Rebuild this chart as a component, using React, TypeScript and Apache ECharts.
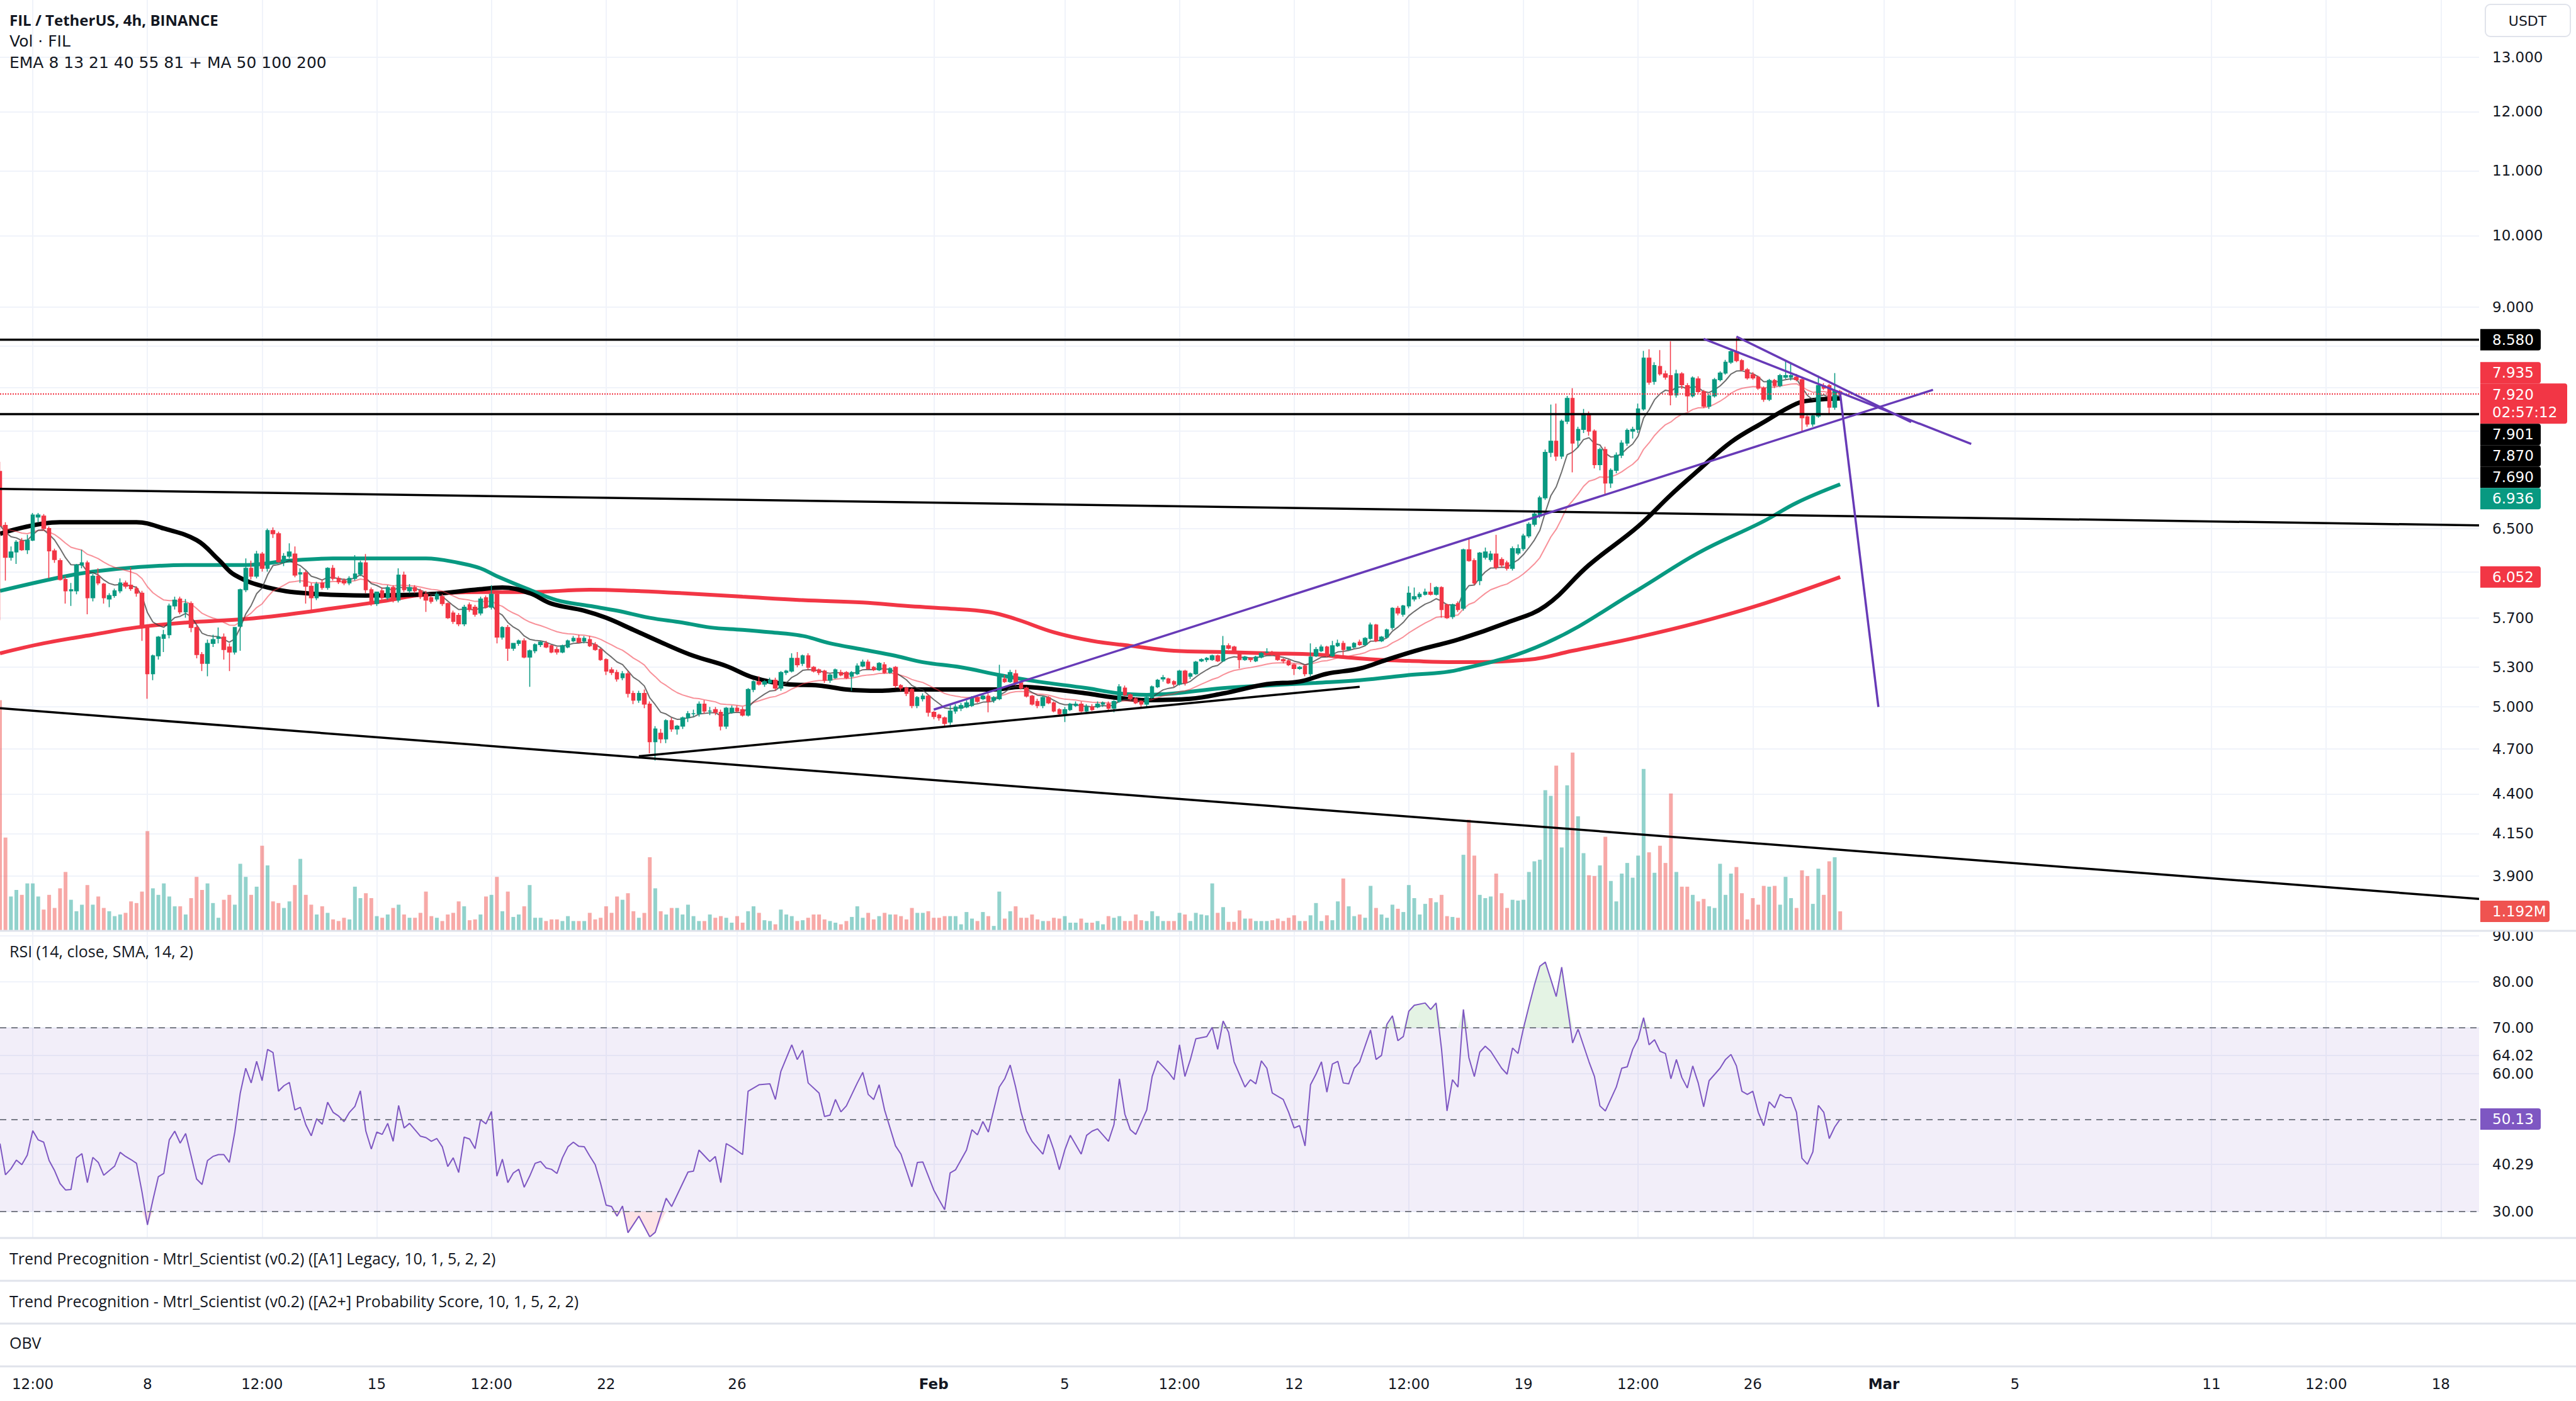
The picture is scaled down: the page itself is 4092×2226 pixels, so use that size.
import React, { useEffect, useRef } from "react";
import * as echarts from "echarts";

// ---------- DATA ----------
// 4h candles, index 0 = Jan 3 12:00 ; [open, high, low, close]
const ohlc: [number, number, number, number][] = [
  [7.07,7.17,5.68,6.53],[6.53,6.56,6.02,6.23],[6.23,6.33,6.20,6.28],[6.28,6.39,6.17,6.37],[6.38,6.41,6.29,6.30],
  [6.30,6.44,6.26,6.39],[6.39,6.65,6.38,6.63],[6.61,6.65,6.56,6.63],[6.62,6.64,6.48,6.50],[6.50,6.52,6.04,6.29],
  [6.29,6.31,6.18,6.21],[6.20,6.22,6.02,6.03],[6.03,6.06,5.82,5.93],[5.93,6.00,5.80,5.94],[5.93,6.17,5.90,6.16],
  [6.16,6.30,6.13,6.18],[6.18,6.20,5.73,5.87],[5.87,6.08,5.84,6.06],[6.06,6.13,5.98,6.00],[5.99,6.00,5.82,5.87],
  [5.86,5.91,5.79,5.89],[5.89,5.95,5.87,5.93],[5.93,6.04,5.91,6.00],[6.00,6.02,5.95,5.97],[5.98,6.14,5.93,5.95],
  [5.95,5.97,5.88,5.91],[5.91,5.93,5.51,5.62],[5.62,5.64,5.06,5.25],[5.25,5.40,5.20,5.39],[5.39,5.55,5.36,5.54],
  [5.53,5.60,5.42,5.56],[5.56,5.82,5.53,5.80],[5.80,5.88,5.77,5.85],[5.86,5.88,5.73,5.75],[5.75,5.86,5.70,5.82],
  [5.82,5.84,5.58,5.62],[5.62,5.64,5.37,5.40],[5.40,5.42,5.27,5.33],[5.33,5.52,5.23,5.49],[5.49,5.56,5.46,5.52],
  [5.53,5.62,5.49,5.54],[5.54,5.57,5.36,5.44],[5.46,5.49,5.27,5.42],[5.42,5.62,5.40,5.62],[5.63,5.95,5.43,5.94],
  [5.94,6.22,5.92,6.13],[6.13,6.20,6.03,6.06],[6.06,6.29,6.04,6.26],[6.26,6.28,6.10,6.13],[6.13,6.50,6.10,6.48],
  [6.48,6.51,6.41,6.45],[6.45,6.47,6.18,6.19],[6.19,6.27,6.15,6.24],[6.24,6.36,6.22,6.28],[6.26,6.33,6.05,6.07],
  [6.08,6.13,6.00,6.09],[6.09,6.11,5.82,5.97],[5.97,6.00,5.75,5.87],[5.87,6.01,5.85,5.99],[6.00,6.03,5.94,5.96],
  [5.96,6.14,5.94,6.13],[6.13,6.16,6.02,6.04],[6.04,6.06,5.99,6.01],[6.02,6.04,5.98,6.00],[6.00,6.06,5.98,6.04],
  [6.04,6.25,6.02,6.08],[6.08,6.20,6.06,6.18],[6.18,6.26,5.91,5.94],[5.94,5.96,5.80,5.82],[5.82,5.92,5.80,5.92],
  [5.93,5.96,5.85,5.87],[5.87,5.98,5.85,5.96],[5.96,5.98,5.83,5.85],[5.85,6.13,5.83,6.07],[6.07,6.10,5.92,5.94],
  [5.93,5.99,5.91,5.96],[5.96,5.98,5.91,5.93],[5.93,5.95,5.86,5.88],[5.90,5.93,5.75,5.85],[5.87,5.89,5.82,5.84],
  [5.86,5.92,5.84,5.90],[5.88,5.90,5.80,5.82],[5.82,5.83,5.69,5.70],[5.74,5.76,5.65,5.67],[5.72,5.74,5.63,5.65],
  [5.65,5.81,5.63,5.79],[5.81,5.83,5.75,5.77],[5.79,5.81,5.71,5.73],[5.74,5.88,5.72,5.86],[5.87,5.89,5.78,5.79],
  [5.79,5.98,5.77,5.90],[5.90,5.92,5.49,5.54],[5.54,5.63,5.52,5.62],[5.62,5.64,5.35,5.45],[5.45,5.49,5.43,5.49],
  [5.49,5.52,5.47,5.51],[5.51,5.53,5.37,5.38],[5.38,5.44,5.15,5.43],[5.43,5.49,5.41,5.48],[5.48,5.51,5.46,5.50],
  [5.49,5.51,5.45,5.46],[5.47,5.48,5.41,5.42],[5.44,5.46,5.40,5.42],[5.42,5.48,5.41,5.47],[5.46,5.52,5.45,5.51],
  [5.51,5.55,5.50,5.53],[5.53,5.56,5.49,5.50],[5.51,5.55,5.49,5.53],[5.52,5.55,5.46,5.47],[5.48,5.50,5.43,5.44],
  [5.44,5.45,5.35,5.36],[5.36,5.37,5.24,5.27],[5.28,5.30,5.24,5.26],[5.26,5.28,5.19,5.21],[5.22,5.27,5.20,5.25],
  [5.25,5.27,5.07,5.10],[5.10,5.12,5.02,5.05],[5.05,5.12,5.03,5.10],[5.10,5.13,4.99,5.02],[5.02,5.04,4.67,4.75],
  [4.75,4.86,4.62,4.84],[4.81,4.84,4.74,4.77],[4.77,4.91,4.74,4.90],[4.90,4.92,4.82,4.84],[4.84,4.87,4.80,4.86],
  [4.86,4.93,4.84,4.92],[4.92,4.97,4.89,4.95],[4.95,4.98,4.93,4.95],[4.95,5.04,4.93,5.02],[5.02,5.05,4.95,4.97],
  [4.97,5.00,4.94,4.97],[4.98,5.00,4.94,4.96],[4.96,4.98,4.83,4.86],[4.86,5.00,4.84,4.99],[4.96,5.01,4.95,4.99],
  [4.99,5.01,4.96,4.97],[4.98,5.00,4.93,4.94],[4.94,5.14,4.93,5.13],[5.13,5.20,5.11,5.19],[5.19,5.23,5.16,5.17],
  [5.17,5.20,5.15,5.19],[5.18,5.22,5.17,5.20],[5.20,5.22,5.12,5.14],[5.14,5.27,5.12,5.26],[5.26,5.28,5.24,5.27],
  [5.27,5.41,5.26,5.37],[5.37,5.42,5.30,5.32],[5.33,5.40,5.31,5.39],[5.39,5.41,5.28,5.30],[5.30,5.31,5.26,5.27],
  [5.28,5.29,5.24,5.26],[5.27,5.28,5.18,5.20],[5.20,5.25,5.18,5.24],[5.22,5.29,5.21,5.28],[5.26,5.28,5.23,5.24],
  [5.26,5.27,5.21,5.22],[5.23,5.27,5.12,5.26],[5.25,5.33,5.24,5.31],[5.31,5.36,5.30,5.34],[5.34,5.36,5.28,5.29],
  [5.30,5.31,5.27,5.28],[5.28,5.34,5.27,5.33],[5.32,5.34,5.25,5.26],[5.26,5.30,5.25,5.29],[5.30,5.31,5.14,5.16],
  [5.16,5.17,5.12,5.14],[5.14,5.15,5.08,5.10],[5.13,5.14,4.99,5.01],[5.01,5.08,4.99,5.07],[5.06,5.10,5.04,5.08],
  [5.08,5.09,4.93,4.96],[4.96,4.97,4.91,4.93],[4.94,4.95,4.90,4.92],[4.92,4.93,4.86,4.88],[4.89,5.01,4.87,4.97],
  [4.97,5.02,4.95,5.00],[4.99,5.03,4.97,5.01],[5.00,5.05,4.99,5.03],[5.01,5.08,5.00,5.07],[5.07,5.09,5.03,5.04],
  [5.06,5.10,5.05,5.08],[5.08,5.10,4.96,5.04],[5.05,5.08,5.03,5.07],[5.06,5.32,5.05,5.23],[5.21,5.24,5.18,5.19],
  [5.19,5.28,5.18,5.26],[5.25,5.28,5.16,5.18],[5.18,5.19,5.13,5.14],[5.14,5.15,5.07,5.08],[5.08,5.09,5.01,5.02],
  [5.04,5.06,4.99,5.01],[5.01,5.08,4.99,5.07],[5.07,5.08,5.02,5.03],[5.03,5.04,4.96,4.97],[4.98,4.99,4.94,4.95],
  [4.95,5.00,4.89,4.98],[4.98,5.03,4.97,5.02],[5.01,5.04,5.00,5.02],[5.02,5.04,4.96,4.97],[4.97,5.02,4.96,5.00],
  [5.00,5.02,4.97,4.98],[5.00,5.04,4.99,5.02],[5.02,5.04,5.00,5.03],[5.02,5.04,4.97,4.99],[4.99,5.05,4.96,5.04],
  [5.04,5.17,5.03,5.15],[5.14,5.16,5.08,5.09],[5.09,5.10,5.05,5.06],[5.06,5.07,5.02,5.03],[5.04,5.05,5.00,5.02],
  [5.02,5.08,5.00,5.07],[5.07,5.16,5.06,5.15],[5.15,5.21,5.14,5.20],[5.21,5.24,5.19,5.22],[5.21,5.22,5.17,5.18],
  [5.19,5.20,5.15,5.17],[5.17,5.28,5.16,5.27],[5.27,5.28,5.16,5.18],[5.23,5.26,5.21,5.25],[5.25,5.35,5.24,5.34],
  [5.35,5.37,5.34,5.36],[5.36,5.38,5.34,5.37],[5.36,5.40,5.35,5.39],[5.39,5.40,5.34,5.35],[5.35,5.55,5.34,5.47],
  [5.47,5.49,5.44,5.45],[5.46,5.47,5.41,5.42],[5.42,5.43,5.29,5.36],[5.36,5.39,5.35,5.38],[5.37,5.38,5.34,5.36],
  [5.35,5.39,5.34,5.38],[5.38,5.42,5.37,5.41],[5.42,5.45,5.41,5.42],[5.41,5.43,5.39,5.40],[5.40,5.41,5.35,5.36],
  [5.36,5.37,5.33,5.35],[5.35,5.36,5.31,5.32],[5.32,5.33,5.24,5.29],[5.29,5.31,5.28,5.30],[5.31,5.32,5.23,5.25],
  [5.25,5.49,5.23,5.38],[5.39,5.46,5.38,5.44],[5.43,5.48,5.42,5.46],[5.46,5.47,5.38,5.39],[5.39,5.51,5.38,5.47],
  [5.47,5.52,5.46,5.49],[5.49,5.51,5.39,5.44],[5.44,5.46,5.43,5.46],[5.46,5.50,5.45,5.49],[5.50,5.52,5.47,5.48],
  [5.48,5.54,5.47,5.53],[5.53,5.66,5.52,5.64],[5.64,5.65,5.50,5.51],[5.51,5.55,5.50,5.54],[5.54,5.61,5.53,5.60],
  [5.62,5.79,5.60,5.78],[5.78,5.80,5.72,5.74],[5.73,5.81,5.71,5.80],[5.80,5.97,5.78,5.91],[5.86,5.96,5.84,5.88],
  [5.88,5.92,5.86,5.90],[5.90,5.95,5.89,5.92],[5.92,6.00,5.89,5.90],[5.90,5.97,5.89,5.96],[5.96,5.97,5.70,5.77],
  [5.81,5.82,5.69,5.70],[5.71,5.82,5.69,5.81],[5.82,5.84,5.75,5.77],[5.78,6.31,5.76,6.30],[6.30,6.40,6.19,6.20],
  [6.20,6.22,5.98,6.00],[6.02,6.28,5.98,6.27],[6.23,6.32,6.21,6.28],[6.21,6.29,6.19,6.26],[6.26,6.44,6.12,6.14],
  [6.21,6.23,6.14,6.16],[6.18,6.20,6.11,6.13],[6.13,6.33,6.11,6.31],[6.27,6.35,6.25,6.31],[6.31,6.45,6.29,6.43],
  [6.43,6.56,6.41,6.54],[6.54,6.66,6.52,6.64],[6.62,6.82,6.60,6.80],[6.80,7.30,6.78,7.27],[7.27,7.80,7.22,7.39],
  [7.39,7.81,7.18,7.23],[7.23,7.63,7.20,7.61],[7.61,7.90,7.58,7.87],[7.87,7.99,7.06,7.37],[7.40,7.55,7.32,7.52],
  [7.52,7.75,7.48,7.69],[7.69,7.72,7.45,7.50],[7.50,7.52,7.10,7.14],[7.14,7.32,7.08,7.30],[7.30,7.33,6.84,6.95],
  [6.95,7.10,6.90,7.08],[7.08,7.27,7.05,7.24],[7.24,7.40,7.21,7.37],[7.37,7.53,7.34,7.51],[7.50,7.55,7.42,7.52],
  [7.52,7.81,7.48,7.75],[7.75,8.44,7.73,8.35],[8.35,8.46,8.03,8.06],[8.07,8.30,8.03,8.26],[8.25,8.45,8.14,8.16],
  [8.16,8.20,8.09,8.12],[8.14,8.56,7.79,7.91],[7.91,8.21,7.88,8.16],[8.16,8.18,7.98,8.03],[8.02,8.05,7.72,7.90],
  [7.90,8.13,7.88,8.11],[8.10,8.13,7.93,7.95],[7.95,7.97,7.76,7.78],[7.78,7.92,7.75,7.90],[7.90,8.11,7.88,8.09],
  [8.09,8.19,8.07,8.17],[8.17,8.33,8.15,8.30],[8.30,8.46,8.28,8.43],[8.43,8.61,8.30,8.32],[8.32,8.34,8.19,8.21],
  [8.21,8.23,8.09,8.11],[8.15,8.18,8.09,8.11],[8.12,8.14,7.97,7.99],[7.99,8.01,7.83,7.86],[7.86,8.10,7.84,8.08],
  [8.08,8.10,7.99,8.02],[8.02,8.16,8.00,8.14],[8.12,8.32,8.10,8.14],[8.12,8.29,8.08,8.14],[8.12,8.16,8.07,8.09],
  [8.09,8.11,7.49,7.65],[7.66,7.68,7.55,7.58],[7.58,7.69,7.55,7.67],[7.67,8.14,7.65,8.02],[8.02,8.05,7.97,7.99],
  [8.02,8.04,7.69,7.77],[7.77,8.17,7.74,7.96],[7.95,7.97,7.91,7.92],
];

// volume per candle, millions of FIL
const volumes: number[] = [
  14.1,5.7,2.1,2.5,2.2,2.9,2.9,2.1,1.3,2.2,1.4,2.6,3.6,1.9,1.2,1.6,2.8,1.6,2.1,1.4,
  1.2,0.9,1.0,1.1,1.8,1.7,2.4,6.1,2.6,2.2,2.9,2.1,1.5,1.5,1.0,2.0,3.3,2.5,2.9,1.7,
  0.8,1.9,2.2,1.6,4.1,3.3,2.2,2.7,5.2,4.0,1.8,1.7,1.4,1.8,2.8,4.4,2.2,1.6,1.0,1.5,
  1.1,0.7,0.6,0.8,0.7,2.7,2.0,2.3,2.0,0.9,0.8,1.0,1.4,1.6,1.0,0.8,0.8,1.1,2.4,0.9,
  0.8,0.6,1.0,1.1,1.8,1.5,0.65,0.7,1.0,2.1,2.2,3.3,1.2,2.4,0.85,1.0,1.5,2.8,0.8,0.8,
  0.6,0.7,0.7,0.6,0.9,0.6,0.6,0.6,1.1,0.7,0.8,1.5,1.1,2.1,1.9,2.3,1.2,0.8,1.1,4.5,
  2.6,1.2,1.0,1.4,1.4,1.0,1.6,0.9,0.6,0.6,1.0,0.8,0.9,0.8,0.5,0.9,0.5,1.2,1.5,1.1,
  0.65,0.6,0.4,1.3,1.0,0.9,0.6,0.65,0.8,1.0,1.0,0.7,0.6,0.5,0.4,0.6,0.85,1.5,0.8,1.1,
  0.7,0.9,1.1,1.0,1.0,0.9,0.7,1.4,1.1,1.1,1.2,0.8,0.8,0.9,0.9,0.9,0.4,1.15,0.75,0.6,
  1.15,0.9,0.3,2.4,0.75,1.2,1.5,0.8,0.8,1.0,0.7,0.6,0.6,0.8,0.75,0.9,0.5,0.5,0.75,0.5,
  0.5,0.6,0.4,0.9,0.8,0.9,0.6,0.6,1.0,0.65,0.6,1.2,0.9,0.6,0.6,0.6,1.1,1.0,0.6,1.1,
  1.0,0.95,2.9,1.1,1.45,0.55,0.55,1.25,0.75,0.75,0.6,0.6,0.6,0.65,0.75,0.6,0.8,0.95,0.6,0.6,
  0.95,1.7,0.6,0.95,0.65,1.8,3.2,1.5,0.9,1.0,0.8,2.75,1.4,1.0,0.8,1.6,1.35,1.15,2.8,2.0,
  1.0,1.65,2.0,1.75,2.2,0.9,0.85,0.8,4.65,6.8,4.6,2.2,2.0,2.1,3.5,2.3,1.4,1.9,1.85,1.9,
  3.6,4.25,4.35,8.6,8.25,10.1,5.1,8.9,10.9,7.0,4.75,3.4,3.35,4.0,5.75,3.05,1.8,3.5,4.15,3.25,
  4.6,9.9,4.8,3.55,5.2,4.15,8.4,3.6,2.7,2.7,2.2,1.8,1.95,1.5,1.4,4.1,2.2,3.5,3.9,2.3,
  0.7,2.0,1.6,2.75,2.7,2.75,1.6,3.3,2.0,1.4,3.7,3.35,1.65,3.8,2.2,4.25,4.5,1.192,
];

// RSI(14) readings: [candle index, value]
const rsiPoints: [number, number][] = [
  [0,44.8],[1,38.0],[2,39.3],[3,41.2],[4,40.2],[5,42.3],[6,47.6],[7,45.6],[8,45.1],[9,41.1],
  [10,38.9],[11,36.1],[12,34.7],[13,34.8],[14,41.7],[15,42.6],[16,36.3],[17,41.8],[18,40.7],[19,37.9],
  [20,38.9],[21,39.9],[22,42.9],[23,42.0],[24,41.3],[25,40.5],[26,34.3],[27,27.1],[28,32.5],[29,37.6],
  [30,38.3],[31,45.6],[32,47.5],[33,44.9],[34,47.0],[35,42.1],[36,37.1],[37,35.9],[38,41.1],[39,42.0],
  [40,42.4],[41,42.4],[42,40.7],[43,47.3],[44,55.8],[45,61.2],[46,58.0],[47,62.7],[48,58.5],[49,65.3],
  [50,64.6],[51,56.2],[52,57.4],[53,58.1],[54,52.1],[55,52.7],[56,48.9],[57,46.5],[58,50.2],[59,49.0],
  [60,53.8],[61,51.6],[62,50.8],[63,49.6],[64,51.6],[65,52.9],[66,56.3],[67,47.5],[68,43.6],[69,47.3],
  [70,46.8],[71,49.2],[72,45.3],[73,53.1],[74,48.2],[75,49.2],[76,47.8],[77,46.4],[78,46.1],[79,45.3],
  [80,45.9],[81,44.1],[82,39.8],[83,41.7],[84,38.5],[85,46.2],[86,45.8],[87,43.7],[88,50.0],[89,49.1],
  [90,51.8],[91,37.7],[92,41.4],[93,36.3],[94,38.4],[95,39.2],[96,35.3],[97,37.7],[98,40.5],[99,40.9],
  [100,39.5],[101,39.2],[102,38.3],[103,41.7],[104,44.1],[105,45.1],[106,44.2],[107,44.1],[108,42.1],[109,40.2],
  [110,36.1],[111,31.4],[112,31.1],[113,29.0],[114,31.2],[115,25.4],[117,29.0],[119,24.5],[120,25.5],[122,32.9],
  [123,31.1],[126,38.6],[127,38.8],[128,43.4],[130,40.9],[131,42.0],[132,36.3],[133,44.8],[134,44.1],[136,42.4],
  [137,56.2],[139,57.6],[141,57.8],[142,54.4],[143,60.5],[145,66.3],[146,63.1],[147,65.1],[148,58.0],[150,55.8],
  [151,50.7],[152,51.0],[153,54.4],[154,51.7],[155,53.0],[157,58.0],[158,60.3],[159,55.5],[160,54.4],[161,57.6],
  [162,52.1],[164,44.3],[165,42.5],[167,35.4],[168,40.7],[169,40.8],[171,34.7],[172,32.5],[173,30.4],[174,38.4],
  [175,39.1],[177,43.4],[178,47.8],[179,46.7],[180,49.6],[181,47.3],[183,57.1],[184,58.9],[185,61.9],[186,57.1],
  [187,51.6],[188,47.5],[189,45.3],[191,42.5],[192,46.8],[193,43.4],[194,39.1],[195,43.4],[196,46.6],[198,42.5],
  [199,46.6],[200,47.5],[201,48.0],[203,45.3],[204,48.9],[205,58.9],[206,51.2],[207,47.8],[208,46.8],[210,52.1],
  [211,59.4],[212,62.8],[214,60.3],[215,58.7],[216,66.3],[217,59.4],[218,63.1],[219,67.6],[221,68.1],[222,70.1],
  [223,65.3],[224,71.5],[225,69.0],[226,62.6],[228,57.1],[229,58.7],[230,57.8],[231,62.8],[232,61.2],[233,55.8],
  [235,54.4],[236,51.6],[237,48.2],[238,48.7],[239,44.3],[240,57.6],[241,59.9],[242,62.6],[243,56.0],[244,62.1],
  [245,62.7],[246,58.0],[247,57.8],[248,61.2],[249,62.6],[251,69.5],[252,63.1],[253,64.0],[254,70.8],[255,72.6],
  [256,67.2],[257,68.1],[258,73.6],[259,74.9],[261,75.4],[262,74.0],[263,75.4],[264,65.3],[265,51.9],[266,58.7],
  [267,57.1],[268,74.0],[269,63.5],[270,59.4],[271,64.7],[272,66.0],[273,64.9],[275,61.2],[276,59.9],[277,65.6],
  [278,64.4],[279,69.9],[280,74.7],[281,79.3],[282,83.4],[283,84.3],[285,76.8],[286,83.2],[288,66.7],[289,69.7],
  [291,62.6],[292,59.4],[293,53.0],[294,51.9],[296,57.1],[297,61.2],[298,61.5],[299,65.3],[300,67.6],[301,72.2],
  [302,66.3],[303,67.4],[304,64.9],[305,64.4],[306,58.9],[307,63.1],[308,59.2],[309,56.9],[310,61.7],[311,58.0],
  [312,52.8],[313,58.5],[315,61.2],[316,63.1],[317,64.2],[318,61.7],[319,56.2],[320,55.5],[321,56.2],[322,51.6],
  [323,48.7],[324,53.9],[325,52.6],[326,55.5],[327,54.8],[328,54.8],[329,51.6],[330,41.6],[331,40.3],[332,43.0],
  [333,53.1],[334,51.6],[335,45.9],[336,48.4],[337,50.13],
];

// moving averages: [candle index, price]
const ma50Points: [number, number][] = [
  [0,6.45],[11,6.56],[25,6.56],[30,6.50],[36,6.39],[40,6.21],[43,6.07],[49,5.96],[56,5.91],[67,5.89],
  [78,5.90],[87,5.94],[92,5.96],[97,5.91],[101,5.82],[107,5.76],[111,5.70],[116,5.60],[122,5.48],[127,5.39],
  [133,5.31],[138,5.22],[144,5.17],[150,5.16],[155,5.13],[161,5.12],[166,5.13],[173,5.13],[182,5.13],[187,5.15],
  [193,5.13],[199,5.10],[204,5.07],[210,5.05],[218,5.06],[224,5.10],[232,5.17],[238,5.19],[243,5.25],[249,5.29],
  [254,5.36],[260,5.44],[267,5.52],[276,5.66],[283,5.80],[291,6.16],[300,6.52],[306,6.83],[311,7.08],[317,7.38],
  [323,7.60],[329,7.81],[332,7.85],[337,7.87],
];
const ma100Points: [number, number][] = [
  [0,5.93],[11,6.05],[17,6.10],[25,6.14],[34,6.16],[45,6.16],[53,6.20],[61,6.22],[78,6.22],[84,6.18],
  [88,6.13],[91,6.06],[97,5.94],[102,5.85],[108,5.80],[113,5.76],[119,5.70],[125,5.66],[130,5.62],[136,5.60],
  [141,5.58],[147,5.55],[152,5.49],[158,5.44],[164,5.39],[169,5.34],[176,5.30],[183,5.24],[190,5.19],[199,5.14],
  [205,5.10],[210,5.09],[215,5.10],[224,5.14],[232,5.16],[241,5.18],[249,5.20],[258,5.24],[267,5.28],[283,5.49],
  [300,5.94],[311,6.27],[323,6.57],[329,6.75],[337,6.936],
];
const ma200Points: [number, number][] = [
  [0,5.41],[8,5.49],[17,5.56],[25,5.62],[34,5.66],[45,5.69],[53,5.73],[61,5.78],[70,5.84],[78,5.90],
  [88,5.92],[97,5.92],[108,5.94],[116,5.93],[125,5.91],[136,5.88],[147,5.85],[158,5.83],[166,5.80],[173,5.78],
  [181,5.75],[186,5.69],[193,5.58],[200,5.51],[207,5.47],[215,5.43],[224,5.42],[232,5.41],[241,5.40],[246,5.38],
  [252,5.36],[258,5.35],[267,5.34],[280,5.36],[288,5.43],[300,5.54],[311,5.66],[323,5.82],[337,6.052],
];

// drawn trend lines: two anchor points [candle index, price]
const blackLines: [number, number][][] = [
  [[0,8.58],[454,8.58]],
  [[0,7.69],[454,7.69]],
  [[0,6.89],[454,6.53]],
  [[0,4.99],[454,3.77]],
  [[117,4.65],[249,5.15]],
];
const purpleLines: [number, number][][] = [
  [[171,4.98],[354,7.97]],
  [[312,8.59],[361,7.36]],
  [[318,8.62],[350,7.60]],
  [[337,7.92],[344,5.00]],
];

const lastPrice = 7.92;
const priceGridTicks = [3.9,4.15,4.4,4.7,5.0,5.3,5.7,6.1,6.5,7.0,7.5,8.0,8.5,9,10,11,12,13];
const priceLabelTicks = [3.9,4.15,4.4,4.7,5.0,5.3,5.7,6.5,9,10,11,12,13];
const rsiTicks = [30,40.29,60,64.02,70,80,90];
const rsiLevels = [70,50,30];

const xTicks: [number, string][] = [
  [6,"12:00"],[27,"8"],[48,"12:00"],[69,"15"],[90,"12:00"],[111,"22"],[135,"26"],[171,"Feb"],
  [195,"5"],[216,"12:00"],[237,"12"],[258,"12:00"],[279,"19"],[300,"12:00"],[321,"26"],[345,"Mar"],
  [369,"5"],[405,"11"],[426,"12:00"],[447,"18"],
];

const priceBadges = [
  { value: 8.58, text: "8.580", bg: "#000000" },
  { value: 7.935, text: "7.935", bg: "#f23645" },
  { value: 7.92, text: "7.920", sub: "02:57:12", bg: "#f23645", anchor: true },
  { value: 7.901, text: "7.901", bg: "#000000" },
  { value: 7.87, text: "7.870", bg: "#000000" },
  { value: 7.69, text: "7.690", bg: "#000000" },
  { value: 6.936, text: "6.936", bg: "#089981" },
  { value: 6.052, text: "6.052", bg: "#f23645" },
];
const volumeBadge = { value: 1.192, text: "1.192M", bg: "#ef5350" };
const rsiBadge = { value: 50.13, text: "50.13", bg: "#7e57c2" };

const titleLines = ["FIL / TetherUS, 4h, BINANCE", "Vol · FIL", "EMA 8 13 21 40 55 81 + MA 50 100 200"];
const paneTitles = [
  "RSI (14, close, SMA, 14, 2)",
  "Trend Precognition - Mtrl_Scientist (v0.2) ([A1] Legacy, 10, 1, 5, 2, 2)",
  "Trend Precognition - Mtrl_Scientist (v0.2) ([A2+] Probability Score, 10, 1, 5, 2, 2)",
  "OBV",
];

// ---------- LAYOUT ----------
const W = 4092, H = 2226;
const SCALE_W = 154;
const PLOT_W = W - SCALE_W;
const MAIN_H = 1479;
const RSI_TOP = 1479, RSI_H = 488;
const LOW_TOP = 1967, LOW_H = 204;
const PANE_LINES = [1479, 1967, 2035, 2103, 2171];
const N_CAT = 455;
const PRICE_MIN = 3.597, PRICE_MAX = 14.14;
const VOL_MAX = 56.9;
const RSI_MIN = 24.25, RSI_MAX = 91.1;

const AXIS_FONT = "'DejaVu Sans', 'Liberation Sans', sans-serif";
const TEXT_FONT = "'Open Sans', 'Noto Sans', sans-serif";
const TXT = "#131722";
const UP = "#089981", DOWN = "#f23645";

const L = Math.log;

function ema(src: number[], n: number): number[] {
  const k = 2 / (n + 1);
  const out: number[] = [];
  let prev = src[0];
  src.forEach((v, i) => {
    prev = i === 0 ? v : v * k + prev * (1 - k);
    out.push(prev);
  });
  return out;
}

export default function App() {
  const ref = useRef<HTMLDivElement>(null);

  useEffect(() => {
    document.body.style.margin = "0";
    if (!ref.current) return;
    const chart = echarts.init(ref.current, undefined, { renderer: "svg", width: W, height: H });

    const categories = Array.from({ length: N_CAT }, (_, i) => String(i));
    const tickMap = new Map<number, string>(xTicks);
    const isTick = (idx: number) => tickMap.has(idx);
    const closes = ohlc.map((d) => d[3]);
    const ema8 = ema(closes, 8);
    const ema21 = ema(closes, 21);

    const lineSeries = (pts: [number, number][], color: string, width: number, smooth: number | boolean, z = 3) => ({
      type: "line",
      xAxisIndex: 0,
      yAxisIndex: 0,
      data: pts.map(([i, p]) => [i, L(p)]),
      showSymbol: false,
      symbol: "none",
      smooth,
      lineStyle: { color, width },
      silent: true,
      z,
    });

    const rsiZone = (level: number, above: boolean, color: string) => ({
      type: "line",
      xAxisIndex: 1,
      yAxisIndex: 2,
      data: rsiPoints.map(([i, v]) => [i, above ? Math.max(v, level) : Math.min(v, level)]),
      showSymbol: false,
      symbol: "none",
      lineStyle: { width: 0, opacity: 0 },
      areaStyle: { origin: level, color },
      silent: true,
      z: 2,
    });

    const option: any = {
      animation: false,
      backgroundColor: "#ffffff",
      grid: [
        { left: 0, top: 0, width: PLOT_W, height: MAIN_H },
        { left: 0, top: RSI_TOP, width: PLOT_W, height: RSI_H },
        { left: 0, top: LOW_TOP, width: PLOT_W, height: LOW_H },
      ],
      xAxis: [0, 1, 2].map((g) => ({
        type: "category",
        gridIndex: g,
        data: categories,
        boundaryGap: false,
        axisLine: { show: false },
        axisTick: { show: false },
        axisLabel:
          g === 2
            ? {
                show: true,
                interval: (idx: number) => isTick(idx),
                formatter: (_v: string, idx: number) => {
                  const t = tickMap.get(idx) || "";
                  return t === "Feb" || t === "Mar" ? `{b|${t}}` : t;
                },
                color: TXT,
                fontSize: 23,
                fontFamily: AXIS_FONT,
                margin: 16,
                rich: { b: { fontWeight: "bold", fontSize: 23, fontFamily: AXIS_FONT, color: TXT } },
              }
            : { show: false, interval: (idx: number) => isTick(idx) },
        splitLine: {
          show: g !== 2,
          interval: (idx: number) => isTick(idx),
          lineStyle: { color: "#f0f3fa", width: 2 },
        },
      })),
      yAxis: [
        {
          type: "value",
          gridIndex: 0,
          position: "right",
          min: L(PRICE_MIN),
          max: L(PRICE_MAX),
          axisLine: { show: false },
          axisTick: { show: false, customValues: priceGridTicks.map(L) },
          axisLabel: {
            customValues: priceLabelTicks.map(L),
            formatter: (v: number) => Math.exp(v).toFixed(3),
            color: TXT,
            fontSize: 23,
            fontFamily: AXIS_FONT,
            margin: 21,
          },
          splitLine: { show: true, lineStyle: { color: "#f0f3fa", width: 2 } },
        },
        {
          type: "value",
          gridIndex: 0,
          position: "right",
          min: 0,
          max: VOL_MAX,
          show: false,
          splitLine: { show: false },
        },
        {
          type: "value",
          gridIndex: 1,
          position: "right",
          min: RSI_MIN,
          max: RSI_MAX,
          axisLine: { show: false },
          axisTick: { show: false, customValues: rsiTicks },
          axisLabel: {
            customValues: rsiTicks,
            formatter: (v: number) => v.toFixed(2),
            color: TXT,
            fontSize: 23,
            fontFamily: AXIS_FONT,
            margin: 21,
          },
          splitLine: { show: true, lineStyle: { color: "#f0f3fa", width: 2 } },
        },
        { type: "value", gridIndex: 2, show: false, splitLine: { show: false } },
      ],
      series: [
        {
          type: "bar",
          xAxisIndex: 0,
          yAxisIndex: 1,
          barWidth: 6,
          silent: true,
          z: 1,
          data: volumes.map((v, i) => ({
            value: [i, v],
            itemStyle: {
              color: ohlc[i][3] >= ohlc[i][0] ? "rgba(38,166,154,0.5)" : "rgba(239,83,80,0.5)",
            },
          })),
        },
        lineSeries(ma200Points, "#f23645", 6, 0.4, 2),
        lineSeries(ma100Points, "#089981", 6, 0.4, 2),
        lineSeries(ma50Points, "#000000", 7, 0.4, 2),
        {
          type: "line",
          xAxisIndex: 0,
          yAxisIndex: 0,
          data: ema21.map((v, i) => [i, L(v)]),
          showSymbol: false,
          symbol: "none",
          lineStyle: { color: "rgba(242,54,69,0.55)", width: 2 },
          silent: true,
          z: 3,
        },
        {
          type: "line",
          xAxisIndex: 0,
          yAxisIndex: 0,
          data: ema8.map((v, i) => [i, L(v)]),
          showSymbol: false,
          symbol: "none",
          lineStyle: { color: "rgba(60,60,60,0.75)", width: 2 },
          silent: true,
          z: 3,
        },
        {
          type: "candlestick",
          xAxisIndex: 0,
          yAxisIndex: 0,
          barWidth: 6,
          z: 4,
          silent: true,
          itemStyle: { color: UP, color0: DOWN, borderColor: UP, borderColor0: DOWN, borderWidth: 1.5 },
          data: ohlc.map(([o, h, l, c]) => [L(o), L(c), L(l), L(h)]),
          markLine: {
            silent: true,
            symbol: ["none", "none"],
            label: { show: false },
            lineStyle: { color: "#f23645", type: "dotted", width: 2 },
            data: [{ yAxis: L(lastPrice) }],
          },
        },
        ...blackLines.map((pts) => lineSeries(pts, "#000000", 3.5, false, 5)),
        ...purpleLines.map((pts) => lineSeries(pts, "#673ab7", 3.5, false, 5)),
        rsiZone(rsiLevels[0], true, "rgba(76,175,80,0.22)"),
        rsiZone(rsiLevels[2], false, "rgba(242,54,69,0.2)"),
        {
          type: "line",
          xAxisIndex: 1,
          yAxisIndex: 2,
          data: rsiPoints,
          showSymbol: false,
          symbol: "none",
          lineStyle: { color: "#7e57c2", width: 2 },
          silent: true,
          z: 3,
          markArea: {
            silent: true,
            itemStyle: { color: "rgba(126,87,194,0.1)" },
            data: [[{ yAxis: rsiLevels[2] }, { yAxis: rsiLevels[0] }]],
          },
          markLine: {
            silent: true,
            symbol: ["none", "none"],
            label: { show: false },
            lineStyle: { color: "#787b86", type: [10, 8], width: 2 },
            data: rsiLevels.map((v) => ({ yAxis: v })),
          },
        },
      ],
    };

    chart.setOption(option);

    // ---- price-scale badges laid out like the platform does (stacked, no overlap) ----
    const SH = 34, DH = 64;
    const badgeW = (t: string) => 14 * t.length + 26;
    const gfx: any[] = [];
    const pushBadge = (top: number, h: number, text: string, bg: string, sub?: string) => {
      const w = badgeW(sub || text);
      gfx.push({
        type: "rect",
        z: 100,
        shape: { x: PLOT_W + 2, y: top, width: w, height: h, r: [0, 4, 4, 0] },
        style: { fill: bg },
      });
      gfx.push({
        type: "text",
        z: 101,
        x: PLOT_W + 21,
        y: top + (sub ? 4 : h / 2),
        style: {
          text: sub ? `${text}\n${sub}` : text,
          fill: "#ffffff",
          fontSize: 23,
          lineHeight: 28,
          fontFamily: AXIS_FONT,
          align: "left",
          verticalAlign: sub ? "top" : "middle",
        },
      });
    };
    const yOf = (axis: number, v: number) => chart.convertToPixel({ yAxisIndex: axis } as any, v) as number;
    const withY = priceBadges.map((b) => ({ ...b, y: yOf(0, L(b.value)) }));
    const anchor = withY.find((b) => (b as any).anchor)!;
    const anchorTop = anchor.y - SH / 2;
    pushBadge(anchorTop, DH, anchor.text, anchor.bg, (anchor as any).sub);
    const above = withY.filter((b) => b.value > anchor.value).sort((a, b) => a.value - b.value);
    let limit = anchorTop;
    above.forEach((b) => {
      const c = Math.min(b.y, limit - SH / 2);
      pushBadge(c - SH / 2, SH, b.text, b.bg);
      limit = c - SH / 2;
    });
    const below = withY.filter((b) => b.value < anchor.value).sort((a, b) => b.value - a.value);
    limit = anchorTop + DH;
    below.forEach((b) => {
      const c = Math.max(b.y, limit + SH / 2);
      pushBadge(c - SH / 2, SH, b.text, b.bg);
      limit = c + SH / 2;
    });
    const vy = yOf(1, volumeBadge.value);
    pushBadge(vy - SH / 2, SH, volumeBadge.text, volumeBadge.bg);
    const ry = yOf(2, rsiBadge.value);
    pushBadge(ry - SH / 2, SH, rsiBadge.text, rsiBadge.bg);

    // pane separators
    PANE_LINES.forEach((y) =>
      gfx.push({ type: "line", z: 50, shape: { x1: 0, y1: y, x2: W, y2: y }, style: { stroke: "#e0e3eb", lineWidth: 3 } })
    );
    // legends
    titleLines.forEach((t, i) =>
      gfx.push({
        type: "text",
        z: 60,
        x: 15,
        y: 31 + i * 34,
        style: {
          text: t,
          fill: TXT,
          fontSize: i === 0 ? 24 : 25,
          fontWeight: i === 0 ? "bold" : "normal",
          fontFamily: i === 0 ? TEXT_FONT : AXIS_FONT,
          verticalAlign: "middle",
        },
      })
    );
    const paneTitleY = [1511, 1999, 2067, 2133];
    paneTitles.forEach((t, i) =>
      gfx.push({
        type: "text",
        z: 60,
        x: 15,
        y: paneTitleY[i],
        style: { text: t, fill: TXT, fontSize: 25, fontFamily: TEXT_FONT, verticalAlign: "middle" },
      })
    );
    // currency button
    gfx.push({
      type: "rect",
      z: 60,
      shape: { x: 3948, y: 7, width: 135, height: 51, r: 8 },
      style: { fill: "#ffffff", stroke: "#e0e3eb", lineWidth: 2 },
    });
    gfx.push({
      type: "text",
      z: 61,
      x: 4015,
      y: 33,
      style: { text: "USDT", fill: TXT, fontSize: 22, fontFamily: AXIS_FONT, align: "center", verticalAlign: "middle" },
    });

    chart.setOption({ graphic: gfx });

    return () => chart.dispose();
  }, []);

  return <div ref={ref} style={{ width: W, height: H }} />;
}
